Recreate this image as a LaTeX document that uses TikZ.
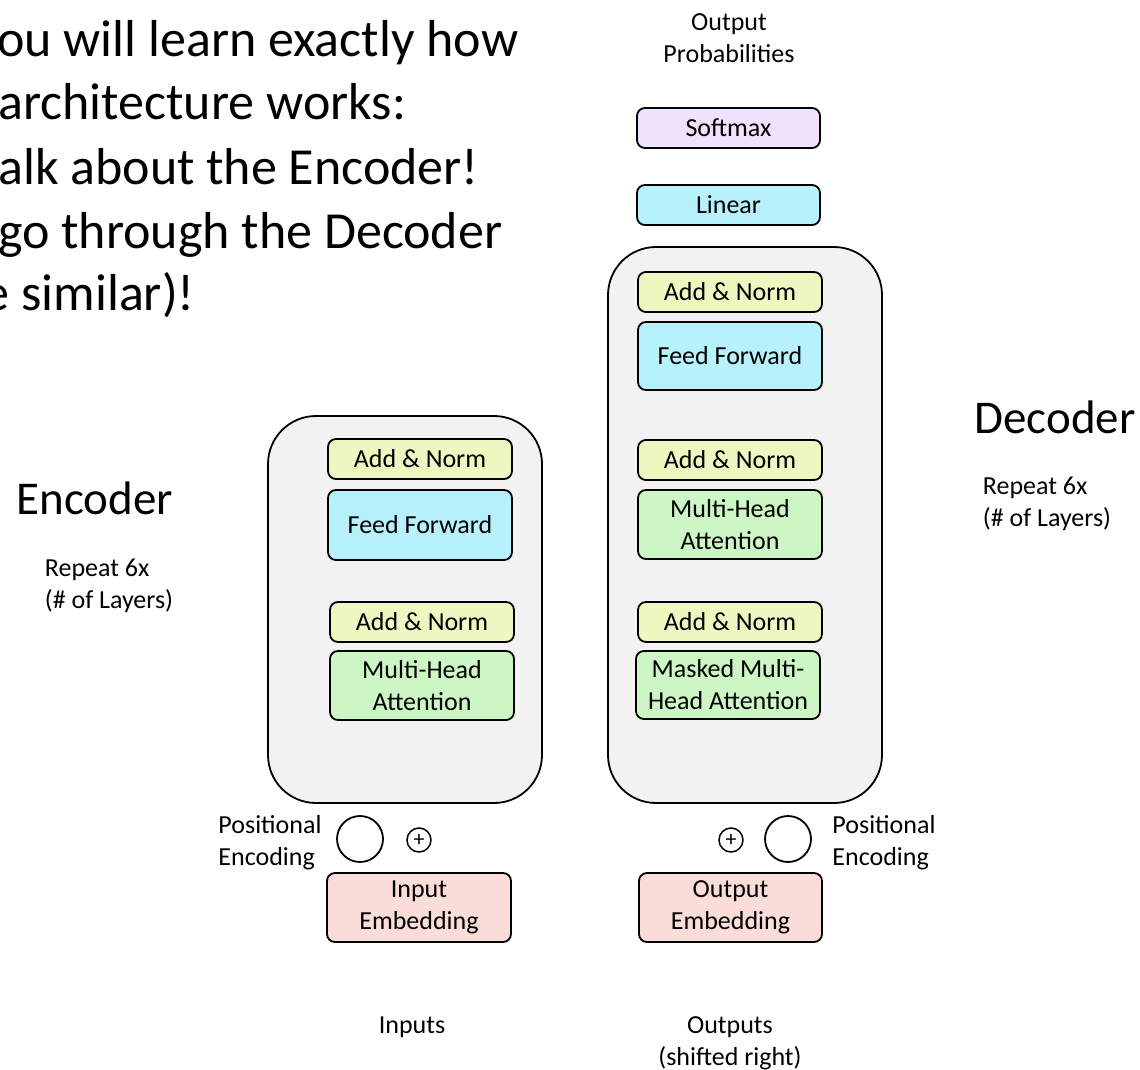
\documentclass[tikz,border=0pt]{standalone}
\usepackage{fontspec}
\setmainfont{Carlito}
\definecolor{normfill}{RGB}{238,247,192}
\definecolor{fffill}{RGB}{182,241,252}
\definecolor{attfill}{RGB}{205,246,197}
\definecolor{embfill}{RGB}{250,220,216}
\definecolor{smfill}{RGB}{240,226,252}
\definecolor{stackfill}{RGB}{242,242,242}
\tikzset{
  lbl/.style={font=\fontsize{26}{32}\selectfont, align=center, inner sep=0pt, yshift=-2pt},
  lbll/.style={font=\fontsize{26}{32}\selectfont, align=left, inner sep=0pt, yshift=-2pt},
  big/.style={font=\fontsize{47}{57}\selectfont, inner sep=0pt},
  slide/.style={font=\fontsize{52}{63}\selectfont, inner sep=0pt},
  layerbox/.style={draw, line width=1.8pt, rounded corners=8pt, inner sep=0pt,
    align=center, font=\fontsize{26}{32}\selectfont},
  stack/.style={draw, line width=1.8pt, rounded corners=48pt, fill=stackfill, inner sep=0pt},
  pe/.style={draw, line width=1.8pt, circle, minimum size=46pt, inner sep=0pt},
  plus/.style={draw, line width=1.5pt, circle, minimum size=24pt, inner sep=0pt,
    font=\fontsize{22}{22}\selectfont},
}
% box given by its left, top, right, bottom edges (pixel-like units, y downward)
\newcommand{\layer}[7]{%
  \node[layerbox, fill=#2, minimum width={#5-#3}, minimum height={#6-#4}]
    (#1) at ({(#3+#5)/2},{(#4+#6)/2}) {#7};}
\begin{document}
\begin{tikzpicture}[x=1pt, y=-1pt]
\clip (0,0) rectangle (1140,1070);
\fill[white] (0,0) rectangle (1140,1070);

% slide text, cut at the left edge
\node[slide, anchor=base west] (t1) at (-3,57) {ou will learn exactly how};
\node[slide, anchor=base west] (t2) at (-2,120) {architecture works:};
\node[slide, anchor=base west] (t3) at (-2,184) {alk about the Encoder!};
\node[slide, anchor=base west] (t4) at (-2,248) {go through the Decoder};
\node[slide, anchor=base east] (t5) at (195,310) {e similar)!};

% encoder stack
\node[stack, minimum width=274pt, minimum height=387pt] (enc) at (405,609.5) {};
\layer{encan2}{normfill}{328}{439}{512}{479}{Add \& Norm}
\layer{encff}{fffill}{328}{490}{512}{560}{Feed Forward}
\layer{encan1}{normfill}{330}{602}{514}{642}{Add \& Norm}
\layer{encmha}{attfill}{330}{651}{514}{720}{Multi-Head\\Attention}

% decoder stack
\node[stack, minimum width=274pt, minimum height=556pt] (dec) at (745,525) {};
\layer{decan3}{normfill}{638}{272}{822}{312}{Add \& Norm}
\layer{decff}{fffill}{638}{322}{822}{390}{Feed Forward}
\layer{decan2}{normfill}{638}{440}{822}{480}{Add \& Norm}
\layer{decmha}{attfill}{638}{490}{822}{559}{Multi-Head\\Attention}
\layer{decan1}{normfill}{638}{602}{822}{642}{Add \& Norm}
\layer{decmmha}{attfill}{636}{651}{820}{719}{Masked Multi-\\Head Attention}

% output head
\layer{lin}{fffill}{637}{185}{820}{225}{Linear}
\layer{soft}{smfill}{637}{108}{820}{148}{Softmax}
\node[lbl] (probs) at (729,36) {Output\\Probabilities};

% embeddings and positional encodings
\layer{inemb}{embfill}{327}{873}{511}{942}{Input\\Embedding}
\layer{outemb}{embfill}{639}{873}{822}{942}{Output\\Embedding}
\node[pe] (encpe) at (360,839) {};
\node[plus] (encplus) at (419,840) {+};
\node[pe] (decpe) at (788,839) {};
\node[plus] (decplus) at (731,840) {+};
\node[lbll] (encpel) at (270,841) {Positional\\Encoding};
\node[lbll] (decpel) at (884,841) {Positional\\Encoding};

% side labels
\node[big] (enclbl) at (95,498) {Encoder};
\node[big] (declbl) at (1055,417) {Decoder};
\node[lbll] (encrep) at (109,584) {Repeat 6x\\(\# of Layers)};
\node[lbll] (decrep) at (1047,502) {Repeat 6x\\(\# of Layers)};

% inputs and outputs
\node[lbl] (inputs) at (412,1025) {Inputs};
\node[lbl] (outputs) at (730,1041) {Outputs\\(shifted right)};
\end{tikzpicture}
\end{document}
